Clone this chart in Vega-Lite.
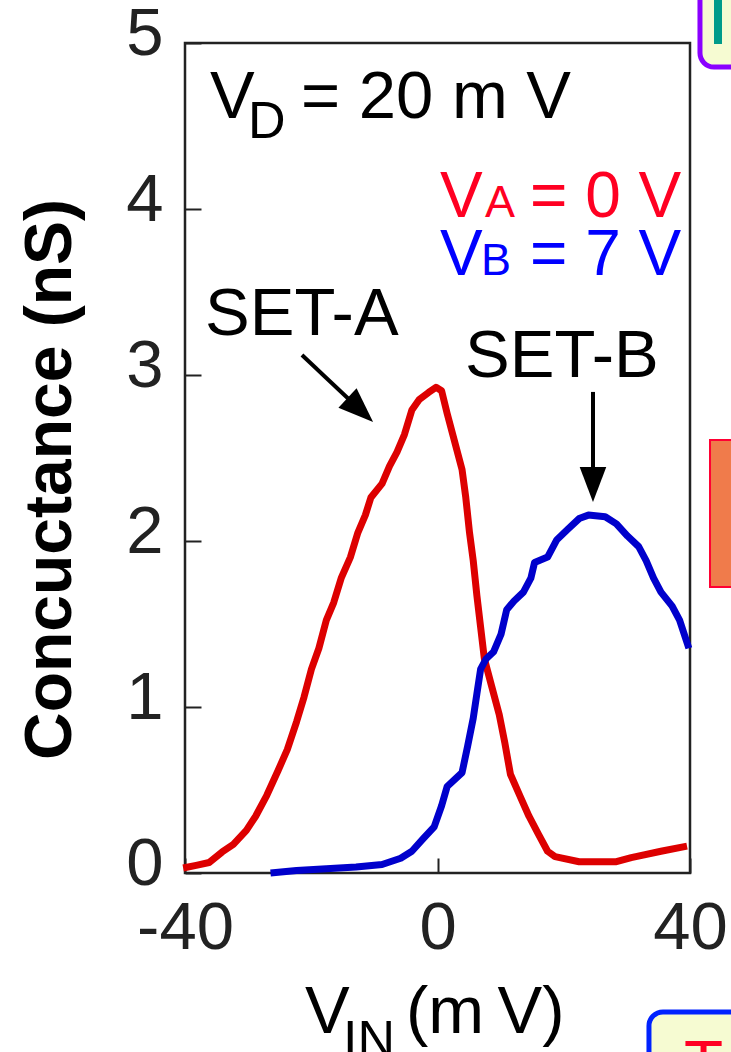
{
  "$schema": "https://vega.github.io/schema/vega-lite/v6.json",
  "width": 505,
  "height": 830,
  "autosize": {"type": "none"},
  "padding": {"left": 185, "top": 43, "right": 41, "bottom": 179},
  "background": "white",
  "config": {"view": {"stroke": "#222222", "strokeWidth": 2.5}, "font": "Liberation Sans"},
  "datasets": {
    "curves": [
      {"series": "SET-A", "x": -40.29, "y": 0.030}, {"series": "SET-A", "x": -38.23, "y": 0.046}, {"series": "SET-A", "x": -36.17, "y": 0.063},
      {"series": "SET-A", "x": -34.11, "y": 0.127}, {"series": "SET-A", "x": -32.34, "y": 0.173}, {"series": "SET-A", "x": -30.28, "y": 0.257},
      {"series": "SET-A", "x": -28.81, "y": 0.342}, {"series": "SET-A", "x": -27.04, "y": 0.468}, {"series": "SET-A", "x": -25.27, "y": 0.616},
      {"series": "SET-A", "x": -23.80, "y": 0.743}, {"series": "SET-A", "x": -22.33, "y": 0.911}, {"series": "SET-A", "x": -21.15, "y": 1.059},
      {"series": "SET-A", "x": -19.97, "y": 1.228}, {"series": "SET-A", "x": -18.79, "y": 1.354}, {"series": "SET-A", "x": -17.61, "y": 1.523},
      {"series": "SET-A", "x": -16.44, "y": 1.629}, {"series": "SET-A", "x": -15.26, "y": 1.776}, {"series": "SET-A", "x": -13.79, "y": 1.903},
      {"series": "SET-A", "x": -12.61, "y": 2.051}, {"series": "SET-A", "x": -11.43, "y": 2.156}, {"series": "SET-A", "x": -10.55, "y": 2.262},
      {"series": "SET-A", "x": -8.78, "y": 2.346}, {"series": "SET-A", "x": -7.60, "y": 2.451}, {"series": "SET-A", "x": -6.42, "y": 2.536},
      {"series": "SET-A", "x": -5.24, "y": 2.641}, {"series": "SET-A", "x": -4.06, "y": 2.789}, {"series": "SET-A", "x": -2.89, "y": 2.852},
      {"series": "SET-A", "x": -1.41, "y": 2.895}, {"series": "SET-A", "x": -0.24, "y": 2.926}, {"series": "SET-A", "x": 0.65, "y": 2.905},
      {"series": "SET-A", "x": 1.53, "y": 2.768}, {"series": "SET-A", "x": 2.42, "y": 2.641}, {"series": "SET-A", "x": 3.89, "y": 2.430},
      {"series": "SET-A", "x": 4.48, "y": 2.262}, {"series": "SET-A", "x": 5.07, "y": 2.051}, {"series": "SET-A", "x": 5.66, "y": 1.882},
      {"series": "SET-A", "x": 6.24, "y": 1.671}, {"series": "SET-A", "x": 6.83, "y": 1.481}, {"series": "SET-A", "x": 7.42, "y": 1.291},
      {"series": "SET-A", "x": 8.60, "y": 1.122}, {"series": "SET-A", "x": 9.78, "y": 0.954}, {"series": "SET-A", "x": 10.66, "y": 0.785},
      {"series": "SET-A", "x": 11.55, "y": 0.595}, {"series": "SET-A", "x": 13.02, "y": 0.468}, {"series": "SET-A", "x": 14.49, "y": 0.342},
      {"series": "SET-A", "x": 15.96, "y": 0.236}, {"series": "SET-A", "x": 17.44, "y": 0.131}, {"series": "SET-A", "x": 18.62, "y": 0.099},
      {"series": "SET-A", "x": 22.44, "y": 0.068}, {"series": "SET-A", "x": 28.34, "y": 0.068}, {"series": "SET-A", "x": 30.69, "y": 0.093},
      {"series": "SET-A", "x": 35.40, "y": 0.131}, {"series": "SET-A", "x": 39.53, "y": 0.162},
      {"series": "SET-B", "x": -26.45, "y": 0.0}, {"series": "SET-B", "x": -22.33, "y": 0.015}, {"series": "SET-B", "x": -17.61, "y": 0.025},
      {"series": "SET-B", "x": -12.90, "y": 0.036}, {"series": "SET-B", "x": -8.78, "y": 0.051}, {"series": "SET-B", "x": -5.83, "y": 0.089},
      {"series": "SET-B", "x": -4.06, "y": 0.131}, {"series": "SET-B", "x": -2.30, "y": 0.205}, {"series": "SET-B", "x": -0.53, "y": 0.278},
      {"series": "SET-B", "x": 0.65, "y": 0.405}, {"series": "SET-B", "x": 1.53, "y": 0.521}, {"series": "SET-B", "x": 3.89, "y": 0.605},
      {"series": "SET-B", "x": 4.77, "y": 0.764}, {"series": "SET-B", "x": 5.66, "y": 0.932}, {"series": "SET-B", "x": 6.24, "y": 1.080},
      {"series": "SET-B", "x": 6.83, "y": 1.228}, {"series": "SET-B", "x": 7.72, "y": 1.291}, {"series": "SET-B", "x": 8.90, "y": 1.333},
      {"series": "SET-B", "x": 10.07, "y": 1.439}, {"series": "SET-B", "x": 10.96, "y": 1.586}, {"series": "SET-B", "x": 12.13, "y": 1.639},
      {"series": "SET-B", "x": 13.61, "y": 1.692}, {"series": "SET-B", "x": 14.79, "y": 1.776}, {"series": "SET-B", "x": 15.38, "y": 1.871},
      {"series": "SET-B", "x": 17.44, "y": 1.903}, {"series": "SET-B", "x": 18.91, "y": 2.008}, {"series": "SET-B", "x": 20.68, "y": 2.072},
      {"series": "SET-B", "x": 22.44, "y": 2.135}, {"series": "SET-B", "x": 23.91, "y": 2.156}, {"series": "SET-B", "x": 26.57, "y": 2.146},
      {"series": "SET-B", "x": 28.34, "y": 2.103}, {"series": "SET-B", "x": 30.10, "y": 2.030}, {"series": "SET-B", "x": 31.87, "y": 1.966},
      {"series": "SET-B", "x": 33.05, "y": 1.882}, {"series": "SET-B", "x": 34.23, "y": 1.776}, {"series": "SET-B", "x": 35.40, "y": 1.692},
      {"series": "SET-B", "x": 37.17, "y": 1.608}, {"series": "SET-B", "x": 38.35, "y": 1.523}, {"series": "SET-B", "x": 39.82, "y": 1.354}
    ],
    "texts": [
      {"kind": "main", "x": -36.04, "y": 4.548, "t": "V"},
      {"kind": "main", "x": -21.62, "y": 4.548, "t": "= 20 m V"},
      {"kind": "main", "x": -36.83, "y": 3.241, "t": "SET-A"},
      {"kind": "main", "x": 4.36, "y": 2.988, "t": "SET-B"},
      {"kind": "main", "x": -20.99, "y": -0.964, "t": "V"},
      {"kind": "main", "x": -4.99, "y": -0.964, "t": "(m\u2009V)"},
      {"kind": "sub", "x": -30.02, "y": 4.428, "t": "D"},
      {"kind": "sub", "x": -14.97, "y": -1.108, "t": "IN"},
      {"kind": "redBig", "x": 0.40, "y": 3.952, "t": "V"},
      {"kind": "redBig", "x": 14.65, "y": 3.952, "t": "= 0 V"},
      {"kind": "redSmall", "x": 7.52, "y": 3.952, "t": "A"},
      {"kind": "blueBig", "x": 0.40, "y": 3.602, "t": "V"},
      {"kind": "blueBig", "x": 14.65, "y": 3.602, "t": "= 7 V"},
      {"kind": "blueSmall", "x": 6.89, "y": 3.602, "t": "B"},
      {"kind": "frag", "x": 39.05, "y": -1.283, "t": "T"}
    ],
    "arrows": [
      {"name": "A", "x": -21.47, "y": 3.120, "x2": -12.23, "y2": 2.789},
      {"name": "B", "x": 24.63, "y": 2.898, "x2": 24.63, "y2": 2.340}
    ],
    "boxes": [
      {"name": "purple", "x": 41.58, "x2": 50, "y": 5.4, "y2": 4.855},
      {"name": "orange", "x": 43.17, "x2": 50, "y": 2.608, "y2": 1.723},
      {"name": "blue", "x": 33.5, "x2": 50, "y": -0.837, "y2": -1.4},
      {"name": "teal", "x": 43.8, "x2": 45.07, "y": 5.4, "y2": 4.994}
    ]
  },
  "layer": [
    {
      "data": {"name": "curves"},
      "mark": {"type": "line", "strokeWidth": 7, "strokeJoin": "round"},
      "encoding": {
        "x": {
          "field": "x", "type": "quantitative",
          "scale": {"domain": [-40, 40], "nice": false, "zero": false},
          "axis": {
            "values": [-40, 0, 40], "domain": false, "grid": false,
            "tickSize": -15, "tickWidth": 2, "tickColor": "#222222",
            "labelFont": "Liberation Sans", "labelFontSize": 67, "labelColor": "#222222",
            "labelPadding": 37, "labelFlush": false, "labelOverlap": false,
            "labelExpr": "replace(datum.label, '\u2212', '-')",
            "title": null
          }
        },
        "y": {
          "field": "y", "type": "quantitative",
          "scale": {"domain": [0, 5], "nice": false, "zero": false},
          "axis": {
            "values": [0, 1, 2, 3, 4, 5], "format": "d", "domain": false, "grid": false,
            "tickSize": -16, "tickWidth": 2, "tickColor": "#222222",
            "labelFont": "Liberation Sans", "labelFontSize": 67, "labelColor": "#222222",
            "labelPadding": 38, "labelOffset": -9, "labelOverlap": false,
            "title": "Concuctance (nS)", "titleFont": "Liberation Sans", "titleFontSize": 66,
            "titleFontWeight": "bold", "titleColor": "#000000",
            "titleAngle": 270, "titleBaseline": "alphabetic", "titleAlign": "center",
            "titleX": -115, "titleY": 436
          }
        },
        "color": {"field": "series", "type": "nominal", "scale": {"domain": ["SET-A", "SET-B"], "range": ["#dd0000", "#0000cc"]}, "legend": null},
        "order": {"field": "x", "type": "quantitative"}
      }
    },
    {
      "data": {"name": "boxes"},
      "transform": [{"filter": "datum.name === 'purple' || datum.name === 'blue'"}],
      "mark": {"type": "rect", "fill": "#f6fbd2", "strokeWidth": 5, "cornerRadius": 14},
      "encoding": {
        "x": {"field": "x", "type": "quantitative"},
        "x2": {"field": "x2"},
        "y": {"field": "y", "type": "quantitative"},
        "y2": {"field": "y2"},
        "stroke": {"field": "name", "type": "nominal", "scale": {"domain": ["purple", "blue"], "range": ["#8a00ff", "#0022ff"]}, "legend": null}
      }
    },
    {
      "data": {"name": "boxes"},
      "transform": [{"filter": "datum.name === 'orange'"}],
      "mark": {"type": "rect", "fill": "#f07b4b", "stroke": "#ff0033", "strokeWidth": 2},
      "encoding": {
        "x": {"field": "x", "type": "quantitative"},
        "x2": {"field": "x2"},
        "y": {"field": "y", "type": "quantitative"},
        "y2": {"field": "y2"}
      }
    },
    {
      "data": {"name": "boxes"},
      "transform": [{"filter": "datum.name === 'teal'"}],
      "mark": {"type": "rect", "fill": "#009b8a"},
      "encoding": {
        "x": {"field": "x", "type": "quantitative"},
        "x2": {"field": "x2"},
        "y": {"field": "y", "type": "quantitative"},
        "y2": {"field": "y2"}
      }
    },
    {
      "data": {"name": "arrows"},
      "mark": {"type": "rule", "color": "#000000", "strokeWidth": 4},
      "encoding": {
        "x": {"field": "x", "type": "quantitative"},
        "x2": {"field": "x2"},
        "y": {"field": "y", "type": "quantitative"},
        "y2": {"field": "y2"}
      }
    },
    {
      "data": {"name": "arrows"},
      "transform": [{"filter": "datum.name === 'A'"}],
      "mark": {"type": "point", "shape": "M0,-1L-0.76,1L0.76,1Z", "filled": true, "color": "#000000", "opacity": 1, "size": 1225, "angle": 133},
      "encoding": {
        "x": {"field": "x2", "type": "quantitative"},
        "y": {"field": "y2", "type": "quantitative"}
      }
    },
    {
      "data": {"name": "arrows"},
      "transform": [{"filter": "datum.name === 'B'"}],
      "mark": {"type": "point", "shape": "M0,-1L-0.76,1L0.76,1Z", "filled": true, "color": "#000000", "opacity": 1, "size": 1225, "angle": 180},
      "encoding": {
        "x": {"field": "x2", "type": "quantitative"},
        "y": {"field": "y2", "type": "quantitative"}
      }
    },
    {
      "data": {"name": "texts"},
      "transform": [{"filter": "datum.kind === 'main'"}],
      "mark": {"type": "text", "align": "left", "baseline": "alphabetic", "font": "Liberation Sans", "fontSize": 67, "color": "#000000"},
      "encoding": {
        "x": {"field": "x", "type": "quantitative"},
        "y": {"field": "y", "type": "quantitative"},
        "text": {"field": "t"}
      }
    },
    {
      "data": {"name": "texts"},
      "transform": [{"filter": "datum.kind === 'sub'"}],
      "mark": {"type": "text", "align": "left", "baseline": "alphabetic", "font": "Liberation Sans", "fontSize": 52, "color": "#000000"},
      "encoding": {
        "x": {"field": "x", "type": "quantitative"},
        "y": {"field": "y", "type": "quantitative"},
        "text": {"field": "t"}
      }
    },
    {
      "data": {"name": "texts"},
      "transform": [{"filter": "datum.kind === 'redBig' || datum.kind === 'frag'"}],
      "mark": {"type": "text", "align": "left", "baseline": "alphabetic", "font": "Liberation Sans", "fontSize": 64, "color": "#ff0022"},
      "encoding": {
        "x": {"field": "x", "type": "quantitative"},
        "y": {"field": "y", "type": "quantitative"},
        "text": {"field": "t"}
      }
    },
    {
      "data": {"name": "texts"},
      "transform": [{"filter": "datum.kind === 'redSmall'"}],
      "mark": {"type": "text", "align": "left", "baseline": "alphabetic", "font": "Liberation Sans", "fontSize": 45, "color": "#ff0022"},
      "encoding": {
        "x": {"field": "x", "type": "quantitative"},
        "y": {"field": "y", "type": "quantitative"},
        "text": {"field": "t"}
      }
    },
    {
      "data": {"name": "texts"},
      "transform": [{"filter": "datum.kind === 'blueBig'"}],
      "mark": {"type": "text", "align": "left", "baseline": "alphabetic", "font": "Liberation Sans", "fontSize": 64, "color": "#0000ff"},
      "encoding": {
        "x": {"field": "x", "type": "quantitative"},
        "y": {"field": "y", "type": "quantitative"},
        "text": {"field": "t"}
      }
    },
    {
      "data": {"name": "texts"},
      "transform": [{"filter": "datum.kind === 'blueSmall'"}],
      "mark": {"type": "text", "align": "left", "baseline": "alphabetic", "font": "Liberation Sans", "fontSize": 45, "color": "#0000ff"},
      "encoding": {
        "x": {"field": "x", "type": "quantitative"},
        "y": {"field": "y", "type": "quantitative"},
        "text": {"field": "t"}
      }
    }
  ]
}
